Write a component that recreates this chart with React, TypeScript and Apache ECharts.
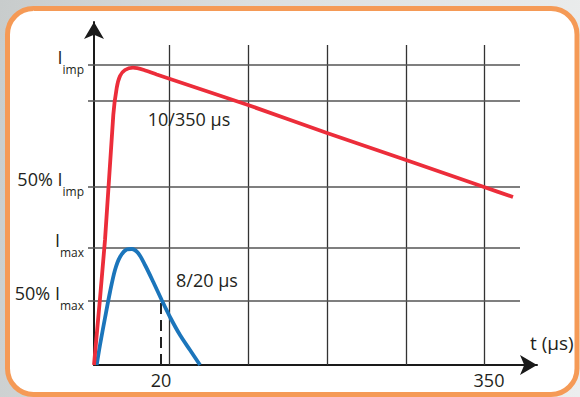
import React, { useEffect, useRef } from 'react';
import * as echarts from 'echarts';

// Schematic units (arbitrary, 1 unit per scale step)
const X_MAX = 443;
const Y_MAX = 343;

// 10/350 µs impulse current (red)
const RED_T = [0, 11, 19.3, 22.7, 26, 31, 39, 50, 62.7, 154, 233, 312, 390, 419];
const RED_I = [0, 125, 250, 277, 289, 295, 297.3, 295, 290.5, 260, 232, 205, 178, 168];

// 8/20 µs impulse current (blue)
const BLUE_T = [2.7, 6, 11, 16, 21, 26, 32.7, 37.7, 44.3, 51, 59.3, 67.7, 76, 86, 96, 106];
const BLUE_I = [0, 20, 47, 73, 95, 108, 115.5, 116, 111.7, 100, 83, 65, 48, 30, 15, 0];

// grid lines
const V_GRID = [75, 154, 233, 312, 390];
const V_GRID_TOP = 320;
const H_GRID = [300, 264, 178, 117, 64];
const H_GRID_RIGHT = 426;

// tick labels
const X_LABEL_POS = [67, 395];
const X_LABELS = ['20', '350'];
const Y_LABEL_POS = [300, 178, 117, 64];
const Y_LABELS: [string, string][] = [
  ['I', 'imp'],
  ['50% I', 'imp'],
  ['I', 'max'],
  ['50% I', 'max'],
];

// marker for 20 µs (half value of 8/20)
const HALF_T = 67;
const HALF_I = 64;

// annotations
const ANNOTATIONS = [
  { name: '10/350 µs', t: 95, i: 246 },
  { name: '8/20 µs', t: 113, i: 85 },
];

const FONT = '"Open Sans", sans-serif';
const TEXT = '#231f20';

export default function App() {
  const ref = useRef<HTMLDivElement>(null);
  useEffect(() => {
    if (!ref.current) return;
    const chart = echarts.init(ref.current, undefined, { renderer: 'svg' });
    const red = RED_T.map((t, k) => [t, RED_I[k]]);
    const blue = BLUE_T.map((t, k) => [t, BLUE_I[k]]);
    const lines: any[] = [];
    V_GRID.forEach((x) =>
      lines.push([
        { coord: [x, 0], lineStyle: { color: '#333', width: 1.3, type: 'solid' } },
        { coord: [x, V_GRID_TOP] },
      ])
    );
    H_GRID.forEach((y) =>
      lines.push([
        { coord: [0, y], lineStyle: { color: '#555', width: 1.5, type: 'solid' } },
        { coord: [H_GRID_RIGHT, y] },
      ])
    );
    lines.push([
      { coord: [HALF_T, 0], lineStyle: { color: '#222', width: 2, type: [11, 6] } },
      { coord: [HALF_T, HALF_I] },
    ]);

    chart.setOption({
      animation: false,
      textStyle: { fontFamily: FONT },
      graphic: [
        {
          type: 'rect',
          z: -10,
          silent: true,
          shape: { x: 7.5, y: 8.5, width: 569.5, height: 386, r: 26 },
          style: { fill: '#ffffff', stroke: '#f59a56', lineWidth: 5 },
        },
      ],
      grid: { left: 94, right: 43, top: 22, bottom: 32 },
      xAxis: {
        type: 'value',
        min: 0,
        max: X_MAX,
        splitLine: { show: false },
        axisTick: { show: false },
        axisLine: {
          show: true,
          symbol: ['none', 'arrow'],
          symbolSize: [15, 17],
          lineStyle: { color: '#1a1a1a', width: 2 },
        },
        axisLabel: {
          customValues: X_LABEL_POS,
          formatter: (v: number) => X_LABELS[X_LABEL_POS.indexOf(v)] ?? '',
          fontSize: 18,
          color: TEXT,
          fontFamily: FONT,
          margin: 6,
        },
        name: 't (µs)',
        nameLocation: 'end',
        nameGap: -7,
        nameTextStyle: {
          fontSize: 19,
          color: TEXT,
          fontFamily: FONT,
          align: 'left',
          verticalAlign: 'bottom',
          padding: [0, 0, 13, 0],
        },
      },
      yAxis: {
        type: 'value',
        min: 0,
        max: Y_MAX,
        splitLine: { show: false },
        axisTick: {
          show: true,
          customValues: H_GRID,
          length: 6,
          lineStyle: { color: '#555', width: 1.5 },
        },
        axisLine: {
          show: true,
          symbol: ['none', 'arrow'],
          symbolSize: [15, 17],
          lineStyle: { color: '#1a1a1a', width: 2 },
        },
        axisLabel: {
          customValues: Y_LABEL_POS,
          margin: 10,
          padding: [0, 0, 10, 0],
          formatter: (v: number) => {
            const l = Y_LABELS[Y_LABEL_POS.indexOf(v)];
            return l ? `{m|${l[0]}}{s|${l[1]}}` : '';
          },
          rich: {
            m: { fontSize: 18, lineHeight: 24, verticalAlign: 'top', color: TEXT, fontFamily: FONT },
            s: { fontSize: 12, lineHeight: 16, verticalAlign: 'top', padding: [15, 0, 0, 0], color: TEXT, fontFamily: FONT },
          },
        },
      },
      series: [
        {
          type: 'line',
          name: 'grid',
          data: [[0, 0]],
          symbol: 'none',
          lineStyle: { opacity: 0 },
          silent: true,
          z: 1,
          markLine: {
            silent: true,
            symbol: ['none', 'none'],
            label: { show: false },
            z: 1,
            data: lines,
          },
          markPoint: {
            silent: true,
            symbol: 'circle',
            symbolSize: 1,
            itemStyle: { color: 'rgba(0,0,0,0)' },
            label: {
              show: true,
              position: 'inside',
              formatter: '{b}',
              fontSize: 18,
              color: TEXT,
              fontFamily: FONT,
            },
            data: ANNOTATIONS.map((a) => ({ name: a.name, coord: [a.t, a.i] })),
          },
        },
        {
          type: 'line',
          name: '8/20 µs',
          data: blue,
          smooth: 0.3,
          symbol: 'none',
          z: 3,
          lineStyle: { color: '#1b75bb', width: 3.8 },
        },
        {
          type: 'line',
          name: '10/350 µs',
          data: red,
          smooth: 0.25,
          symbol: 'none',
          z: 4,
          lineStyle: { color: '#ec2d3a', width: 3.8 },
        },
      ],
    });
    return () => chart.dispose();
  }, []);
  return (
    <div
      style={{
        position: 'fixed',
        left: 0,
        top: 0,
        width: 580,
        height: 397,
        background: 'linear-gradient(100deg, #c8cccc 0%, #dcdfdf 40%, #eceeee 100%)',
      }}
    >
      <div ref={ref} style={{ width: 580, height: 397 }} />
    </div>
  );
}
